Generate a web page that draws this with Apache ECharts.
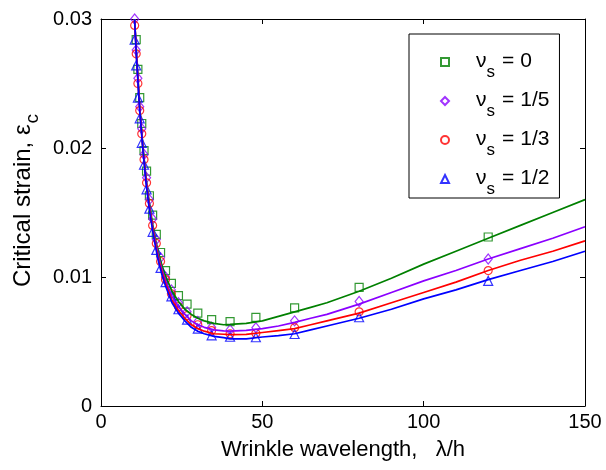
<!DOCTYPE html>
<html>
<head>
<meta charset="utf-8">
<script src="https://cdn.jsdelivr.net/npm/echarts@6/dist/echarts.min.js"></script>
<style>
html,body{margin:0;padding:0;background:#fff;}
#c{width:606px;height:470px;}
</style>
</head>
<body>
<div id="c"></div>
<script>
// ---- data ----
const legendNames = ['0', '1/5', '1/3', '1/2'];
const colors = ['#008000', '#8a00ff', '#ff0000', '#0000ff'];

// theory curves
const lineLambda = [10.4, 11, 12, 13, 14, 15, 16, 17, 18, 19, 20, 22, 24, 25, 26, 28, 30, 32, 35, 38, 40, 45, 50, 55, 60, 65, 70, 80, 90, 100, 110, 120, 130, 140, 150];
const lineNu0  = [0.0300,0.0273,0.0232,0.0201,0.0176,0.0157,0.0141,0.0128,0.0117,0.0108,0.0101,0.0089,0.0081,0.0078,0.0075,0.0071,0.0068,0.0066,0.0064,0.0063,0.00632,0.0064,0.0066,0.00695,0.0073,0.00765,0.0080,0.0089,0.0099,0.0110,0.0120,0.0130,0.0140,0.0150,0.0160];
const lineNu15 = [0.0300,0.0272,0.0231,0.0200,0.0175,0.0155,0.0139,0.0126,0.0114,0.0105,0.0097,0.0085,0.0077,0.0074,0.0071,0.0066,0.0063,0.0061,0.0059,0.00583,0.00581,0.00586,0.0060,0.0062,0.00648,0.0068,0.0071,0.0079,0.0088,0.0097,0.0105,0.0114,0.0122,0.0130,0.0139];
const lineNu13 = [0.0300,0.0271,0.0230,0.0199,0.0174,0.0154,0.0138,0.0124,0.0112,0.0103,0.0095,0.0082,0.0074,0.0071,0.0068,0.0063,0.0060,0.0058,0.0056,0.00556,0.00553,0.00555,0.0057,0.00585,0.0060,0.0063,0.0066,0.0072,0.0080,0.0088,0.0096,0.0105,0.0113,0.0120,0.0128];
const lineNu12 = [0.0300,0.0270,0.0229,0.0198,0.0172,0.0152,0.0136,0.0122,0.0110,0.0101,0.0093,0.0080,0.0072,0.0069,0.0066,0.0061,0.0058,0.0056,0.0054,0.0053,0.0052,0.0052,0.00535,0.00545,0.0056,0.0059,0.0062,0.0068,0.0075,0.0083,0.0090,0.0098,0.0105,0.0112,0.0120];

// simulation points
const ptLambda = [10.43, 10.91, 11.43, 12, 12.63, 13.33, 14.12, 15, 16, 17.14, 18.46, 20, 21.82, 24, 26.67, 30, 34.29, 40, 48, 60, 80, 120];
const ptNu0  = [null,0.0284,0.0261,0.0239,0.0219,0.0198,0.0182,0.0163,0.0148,0.0133,0.0119,0.0105,0.0095,0.00855,0.0079,0.0072,0.0067,0.00654,0.00687,0.0076,0.0092,0.0131];
const ptNu15 = [0.0300,0.0276,0.0254,0.0232,0.0215,0.0195,0.0177,0.0160,0.0145,0.0129,0.0115,0.0100,0.0090,0.0080,0.0073,0.00655,0.0061,0.0059,0.00607,0.0066,0.0081,0.0114];
const ptNu13 = [0.0295,0.0273,0.0250,0.0229,0.0211,0.0191,0.0173,0.0157,0.0140,0.0126,0.0112,0.0098,0.0087,0.0077,0.0070,0.0063,0.00585,0.0056,0.00563,0.00607,0.0073,0.0105];
const ptNu12 = [0.0284,0.0264,0.0239,0.0223,0.0204,0.0187,0.0168,0.0153,0.0135,0.0121,0.0107,0.0096,0.0085,0.0075,0.0067,0.0060,0.00548,0.00537,0.00533,0.00558,0.00688,0.0097];

const xTicks = [0, 50, 100, 150];
const yTicks = [0, 0.01, 0.02, 0.03];

// ---- build ----
const lines = [lineNu0, lineNu15, lineNu13, lineNu12];
const pts = [ptNu0, ptNu15, ptNu13, ptNu12];
const symbols = ['rect', 'diamond', 'circle', 'triangle'];
const symSizes = [8, [8, 10], 8, 9];
const FONT = 'Liberation Sans, Arial, Helvetica, sans-serif';

function pair(xs, ys) { return xs.map((x, i) => ys[i] == null ? null : [x, ys[i]]).filter(d => d); }

const series = [];
pts.forEach((p, i) => {
  series.push({
    name: 'nu' + i,
    type: 'scatter',
    data: pair(ptLambda, p),
    symbol: symbols[i],
    symbolSize: symSizes[i],
    itemStyle: { color: 'rgba(255,255,255,0)', borderColor: colors[i], borderWidth: 1.2 },
    z: 2,
    silent: true
  });
});
lines.forEach((l, i) => {
  series.push({
    name: 'line' + i,
    type: 'line',
    data: pair(lineLambda, l),
    showSymbol: false,
    smooth: false,
    lineStyle: { color: colors[i], width: 1.7 },
    z: 3,
    silent: true
  });
});

const axisCommon = {
  axisLine: { show: true, onZero: false, lineStyle: { color: '#000', width: 1 } },
  axisTick: { show: true, inside: true, length: 5, lineStyle: { color: '#000' } },
  splitLine: { show: false }
};

const chart = echarts.init(document.getElementById('c'), null, { renderer: 'canvas' });
chart.setOption({
  animation: false,
  backgroundColor: '#fff',
  grid: { left: 101, right: 21, top: 19, bottom: 64, containLabel: false },
  xAxis: [
    Object.assign({
      type: 'value', min: xTicks[0], max: xTicks[xTicks.length - 1], interval: 50, position: 'bottom',
      axisLabel: { fontFamily: FONT, fontSize: 20, color: '#000', margin: 6 },
      name: 'Wrinkle wavelength,   λ/h', nameLocation: 'middle', nameGap: 33,
      nameTextStyle: { fontFamily: FONT, fontSize: 22, color: '#000' }
    }, axisCommon),
    Object.assign({
      type: 'value', min: 0, max: 150, interval: 50, position: 'top',
      axisLabel: { show: false }
    }, axisCommon)
  ],
  yAxis: [
    Object.assign({
      type: 'value', min: yTicks[0], max: yTicks[yTicks.length - 1], interval: 0.01, position: 'left',
      axisLabel: { fontFamily: FONT, fontSize: 20, color: '#000', margin: 9,
        formatter: v => v === 0 ? '0' : v.toFixed(2) },
      name: '{t|Critical strain, ε}{c|c}', nameLocation: 'middle', nameGap: 64,
      nameTextStyle: { fontFamily: FONT, fontSize: 24, color: '#000', padding: [0, 0, 0, 24],
        rich: {
          t: { fontFamily: FONT, fontSize: 24, color: '#000', lineHeight: 26, verticalAlign: 'top' },
          c: { fontFamily: FONT, fontSize: 19, color: '#000', lineHeight: 20, padding: [12, 0, 0, 1], verticalAlign: 'top' }
        } }
    }, axisCommon),
    Object.assign({
      type: 'value', min: 0, max: 0.03, interval: 0.01, position: 'right',
      axisLabel: { show: false }
    }, axisCommon)
  ],
  legend: {
    data: ['nu0', 'nu1', 'nu2', 'nu3'],
    orient: 'vertical',
    left: 409, top: 34,
    padding: [17, 10, 0, 31],
    itemGap: 9,
    itemWidth: 8, itemHeight: 8,
    borderColor: '#000', borderWidth: 1, borderRadius: 0,
    backgroundColor: '#fff',
    selectedMode: false,
    formatter: name => {
      const i = +name.slice(2);
      return '{n0|ν}{s|s}{eq|=}{n|' + legendNames[i] + '}';
    },
    textStyle: {
      fontFamily: FONT, color: '#000',
      rich: {
        n0: { fontFamily: FONT, fontSize: 21, color: '#000', lineHeight: 22, padding: [0, 0, 0, 22], verticalAlign: 'top' },
        eq: { fontFamily: FONT, fontSize: 21, color: '#000', lineHeight: 22, padding: [0, 6, 0, 7], verticalAlign: 'top' },
        n: { fontFamily: FONT, fontSize: 21, color: '#000', lineHeight: 22, verticalAlign: 'top' },
        s: { fontFamily: FONT, fontSize: 17, color: '#000', lineHeight: 18, padding: [13, 0, 0, 0], verticalAlign: 'top' }
      }
    }
  },
  series: series
});
</script>
</body>
</html>
